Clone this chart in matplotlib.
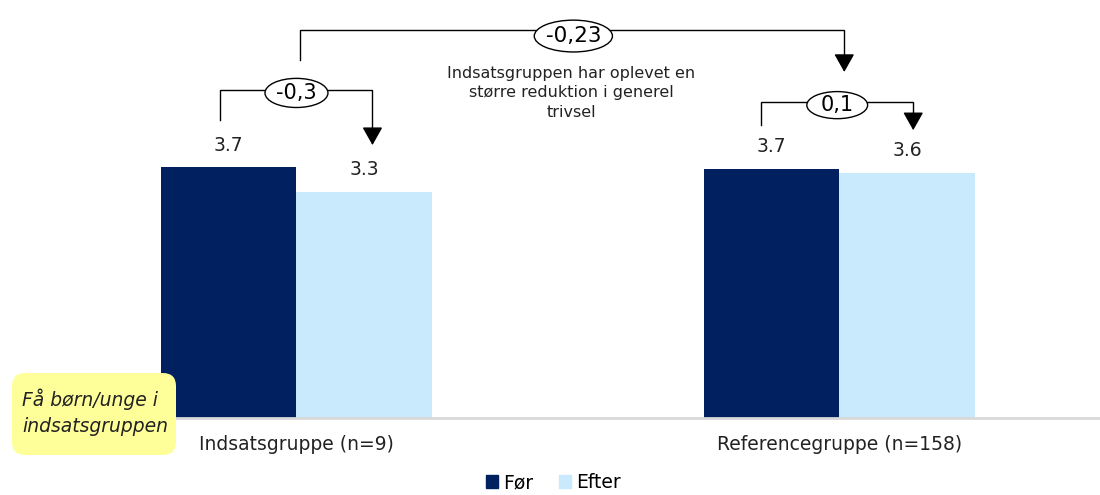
import numpy as np
import matplotlib.pyplot as plt
from matplotlib.patches import Ellipse, FancyBboxPatch, Patch

plt.rcParams['font.family'] = ['DejaVu Sans']

groups = ['Indsatsgruppe (n=9)', 'Referencegruppe (n=158)']
before = [3.70, 3.68]
after = [3.34, 3.62]
series_names = ['Før', 'Efter']
change_labels = ['-0,3', '0,1']
diff_label = '-0,23'
diff_text = 'Indsatsgruppen har oplevet en\nstørre reduktion i generel\ntrivsel'
note_text = 'Få børn/unge i\nindsatsgruppen'

c_dark = '#002060'
c_light = '#C9E9FC'

fig = plt.figure(figsize=(11, 4.95), dpi=100)
ax = fig.add_axes([25 / 1100, 77 / 495, 1075 / 1100, 407 / 495])

x = np.arange(len(groups))
w = 0.25
b1 = ax.bar(x - w / 2, before, w, color=c_dark, label=series_names[0])
b2 = ax.bar(x + w / 2, after, w, color=c_light, label=series_names[1])

for bars in (b1, b2):
    for r in bars:
        ax.annotate(f'{r.get_height():.1f}', (r.get_x() + r.get_width() / 2, r.get_height()),
                    xytext=(0, 9), textcoords='offset points', ha='center', va='bottom',
                    fontsize=13.5, color='#222222')

ax.set_xlim(-0.5, 1.48)
ax.set_ylim(0, 6.01)
ax.set_xticks(x)
ax.set_xticklabels(groups, fontsize=13.5, color='#222222')
ax.tick_params(axis='x', length=0, pad=12.5)
ax.set_yticks([])
for s in ['top', 'right', 'left']:
    ax.spines[s].set_visible(False)
ax.spines['bottom'].set_color('#D9D9D9')
ax.spines['bottom'].set_linewidth(2)


def bracket(x0, x1, y_left, y_top, y_tip, cx, cy, ew, eh, label, fs):
    ax.plot([x0, x0, x1, x1], [y_left, y_top, y_top, y_tip + 0.2], color='black',
            lw=1, clip_on=False, solid_joinstyle='miter')
    ax.annotate('', xy=(x1, y_tip), xytext=(x1, y_tip + 0.25),
                arrowprops=dict(arrowstyle='-|>,head_length=0.8,head_width=0.45',
                                mutation_scale=14, color='black', lw=1,
                                shrinkA=0, shrinkB=0),
                annotation_clip=False)
    ax.add_patch(Ellipse((cx, cy), ew, eh, facecolor='white', edgecolor='black',
                         lw=1, clip_on=False, zorder=3))
    ax.text(cx, cy, label, ha='center', va='center', fontsize=fs, zorder=4)


bracket(-0.14, 0.14, 4.40, 4.845, 4.03, 0.0, 4.80, 0.116, 0.43, change_labels[0], 15)
bracket(1 - 0.144, 1 + 0.136, 4.33, 4.67, 4.25, 0.996, 4.62, 0.112, 0.40, change_labels[1], 15)
bracket(0.006, 1.009, 5.29, 5.73, 5.11, 0.51, 5.64, 0.144, 0.47, diff_label, 15.5)

ax.text(0.506, 4.80, diff_text, ha='center', va='center', fontsize=11.5,
        linespacing=1.4, color='#222222')

box = FancyBboxPatch((12 / 1100, (495 - 455) / 495), 164 / 1100, 82 / 495,
                     boxstyle='round,pad=0,rounding_size=0.012',
                     transform=fig.transFigure, facecolor='#FFFF99',
                     edgecolor='none', mutation_aspect=2.2)
fig.patches.append(box)
fig.text(22 / 1100, (495 - 412) / 495, note_text, ha='left', va='center',
         fontsize=13.5, style='italic', linespacing=1.45, color='#222222')

handles = [Patch(color=c_dark), Patch(color=c_light)]
fig.legend(handles, series_names, loc='lower center', bbox_to_anchor=(0.503, -0.028),
           ncol=2, frameon=False, fontsize=13.5, handlelength=0.65, handleheight=0.65,
           handletextpad=0.25, columnspacing=1.4)

fig.savefig('out.png', dpi=100)
